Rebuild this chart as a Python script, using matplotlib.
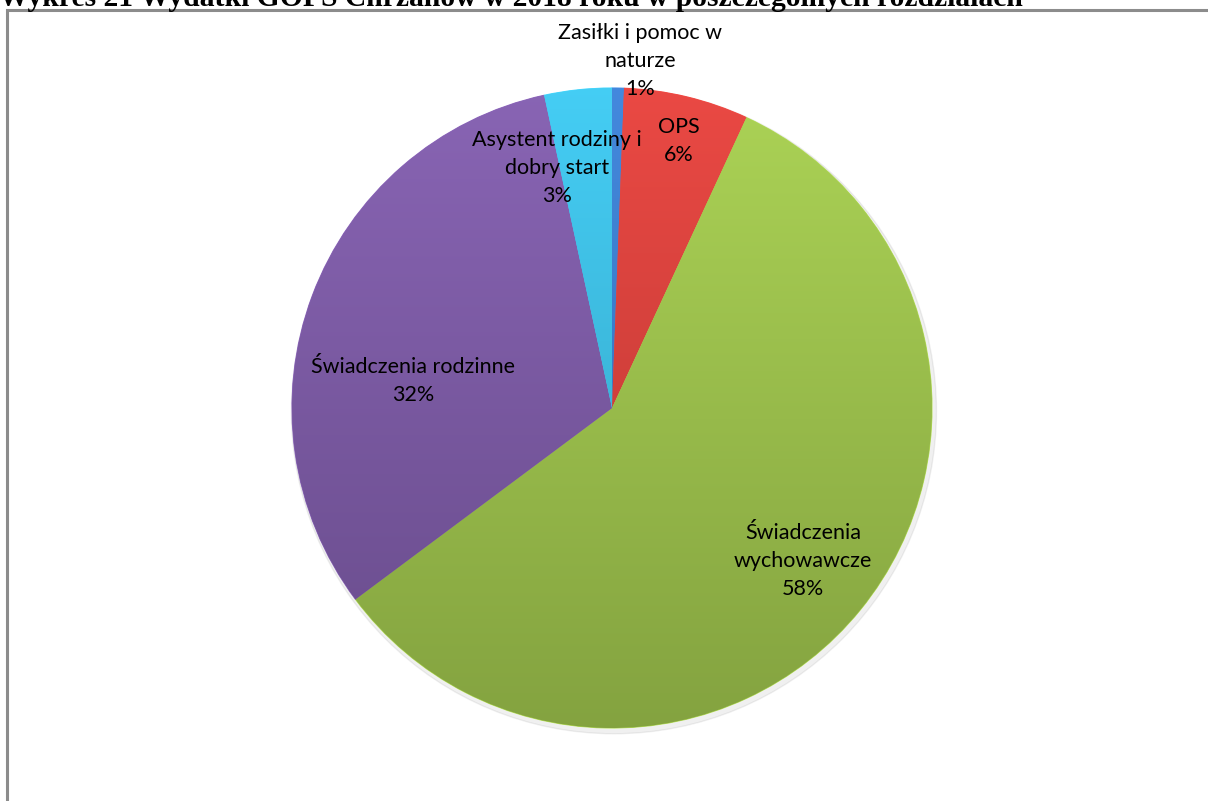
import numpy as np
import matplotlib
matplotlib.use("Agg")
import matplotlib.pyplot as plt
from matplotlib.patches import Rectangle
from matplotlib.colors import to_rgb

# ---- data ----
categories = ["Zasiłki i pomoc w\nnaturze", "OPS", "Świadczenia\nwychowawcze",
              "Świadczenia rodzinne", "Asystent rodziny i\ndobry start"]
shares = [0.6, 6.3, 57.9, 31.8, 3.4]
title = "Wykres 21 Wydatki GOPS Chrzanów w 2018 roku w poszczególnych rozdziałach"

# ---- style ----
colors = ["#3b7ccc", "#d8403b", "#9dc24c", "#7c5aa5", "#3cbde2"]
label_xy = [(0.0875, 1.085), (0.209, 0.835), (0.597, -0.478), (-0.622, 0.085), (-0.172, 0.75)]

W, H = 1208, 801
fig = plt.figure(figsize=(W / 100, H / 100), dpi=100)
fig.patch.set_facecolor("white")

# frame
fig.patches.append(Rectangle((7.5 / W, -0.1), 1.2, 1 - 10 / H + 0.1, transform=fig.transFigure,
                             fill=False, edgecolor="#8c8c8c", linewidth=2.2, zorder=0))
# title (clipped at top in the original)
fig.text(-1 / W, 1 - 6 / H, title, family="Liberation Serif", fontweight="bold",
         fontsize=21.3, ha="left", va="baseline", color="black")

cx, cy, R = 612, 408, 320
ax = fig.add_axes([(cx - R) / W, (H - cy - R) / H, 2 * R / W, 2 * R / H])
ax.set_aspect("equal")
ax.axis("off")

wedges, _ = ax.pie(shares, colors=colors, startangle=90, counterclock=False,
                   radius=1.0, center=(0, 0), frame=False,
                   wedgeprops=dict(linewidth=0.8))

# subtle shadow
shadow = plt.Circle((0.006, -0.01), 1.008, color="#000000", alpha=0.06, zorder=0, clip_on=False)
ax.add_patch(shadow)

# gradient fill per wedge
yy = np.linspace(1, 0, 256)[:, None]
for w, c in zip(wedges, colors):
    base = np.array(to_rgb(c))
    light = np.clip(base * 1.06 + 0.02, 0, 1)
    dark = base * 0.84
    grad = light[None, None, :] * yy[..., None] + dark[None, None, :] * (1 - yy[..., None])
    grad = np.repeat(grad, 4, axis=1)
    im = ax.imshow(grad, extent=[-1, 1, -1, 1], origin="upper", zorder=2, aspect="auto",
                   interpolation="bilinear")
    im.set_clip_path(w)
    w.set_edgecolor(tuple(np.clip(base * 1.15, 0, 1)))
    w.set_zorder(1)
    w.set_facecolor(c)

ax.set_xlim(-1, 1)
ax.set_ylim(-1, 1)

# labels
for lab, val, (x, y) in zip(categories, shares, label_xy):
    ax.text(x, y, f"{lab}\n{round(val):d}%", ha="center", va="center", fontsize=15.5,
            family="Lato", color="black", linespacing=1.5, zorder=5)

fig.savefig("out.png", dpi=100, facecolor="white")
